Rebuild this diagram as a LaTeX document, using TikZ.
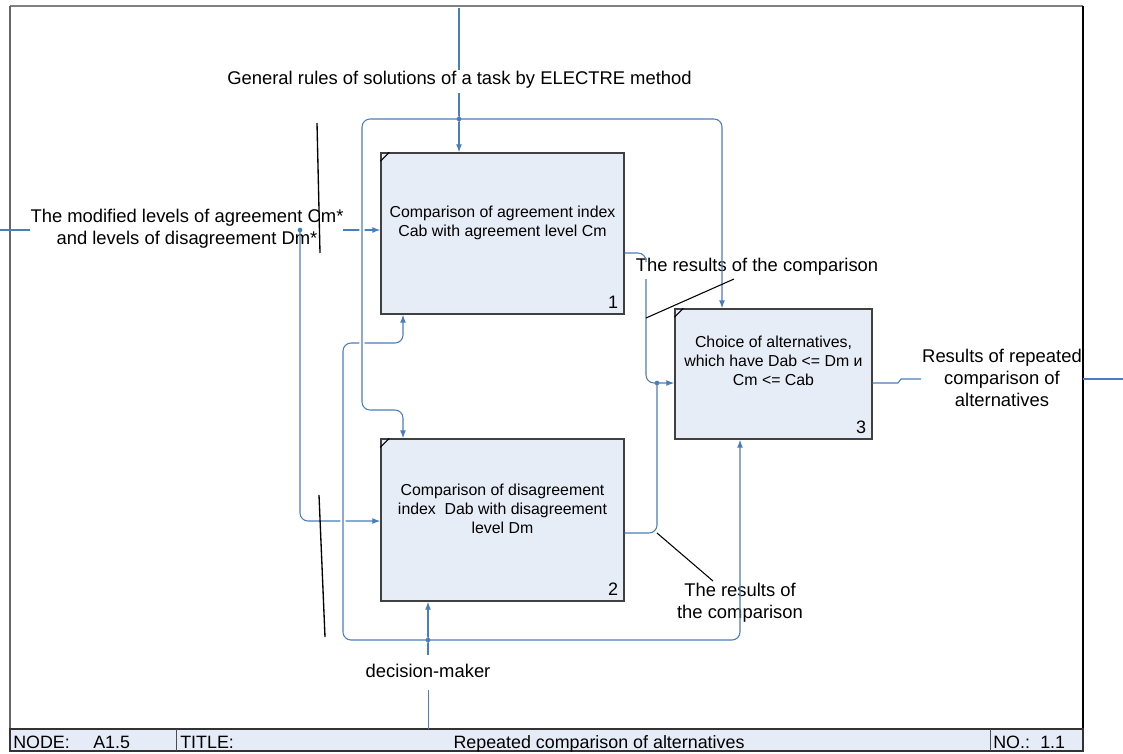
\documentclass[tikz,border=0pt]{standalone}
\usepackage{fontspec}
\setmainfont{Liberation Sans}
\usetikzlibrary{arrows.meta}
\definecolor{flow}{HTML}{4A7EBB}
\definecolor{boxfill}{HTML}{E7EDF7}
\definecolor{barfill}{HTML}{E6ECF7}
\begin{document}
\begin{tikzpicture}[x=0.75pt,y=-0.75pt,
  flowline/.style={draw=flow, line width=0.8pt},
  arr/.style={flowline, -{Latex[length=6pt,width=4.5pt]}},
  rc/.style={rounded corners=6pt},
  halo/.style={preaction={draw=white, line width=4pt, shorten >=4pt}},
  box/.style={draw=black!75, fill=boxfill, line width=1.1pt, inner sep=0pt},
  boxtext/.style={font=\fontsize{11.9}{14.3}\selectfont, align=center, inner sep=0pt},
  numtext/.style={font=\fontsize{13.5}{15}\selectfont, inner sep=0pt},
  lbl/.style={font=\fontsize{13.8}{16.2}\selectfont, align=center, inner sep=1pt},
  bartext/.style={font=\fontsize{13.4}{15}\selectfont, inner sep=0pt, anchor=base west},
  leader/.style={draw=black, line width=0.8pt},
  tick/.style={draw=black, line width=1pt},
  dotc/.style={circle, fill=flow, inner sep=0pt, minimum size=3.5pt}
]
\useasboundingbox (0,0) rectangle (1123,753);

% frame
\draw[black!50, line width=1.5pt] (10,6) -- (1083,6);
\draw[black!60, line width=0.8pt] (10,6) -- (10,729);
\draw[black, line width=1.1pt] (1083,6) -- (1083,729);

% bottom bar
\draw[fill=barfill, draw=black!80, line width=0.8pt] (10,729) rectangle (1083,751);
\draw[black!70, line width=0.6pt] (176,729) -- (176,751);
\draw[black!70, line width=0.6pt] (990,729) -- (990,751);
\node[bartext] (nodek) at (13,748) {NODE:};
\node[bartext] (nodev) at (93,748) {A1.5};
\node[bartext] (titlek) at (180,748) {TITLE:};
\node[font=\fontsize{13.4}{15}\selectfont, inner sep=0pt, anchor=base] (titlev) at (599,748) {Repeated comparison of alternatives};
\node[bartext] (nok) at (993,748) {NO.:};
\node[bartext] (nov) at (1040,748) {1.1};

% activity boxes
\node[box, minimum width=182.25pt, minimum height=120.75pt] (b1) at (502.5,233.5) {};
\node[box, minimum width=182.25pt, minimum height=121.5pt] (b2) at (502.5,520) {};
\node[box, minimum width=147.75pt, minimum height=97.5pt] (b3) at (773.5,374) {};
\foreach \b in {b1,b2,b3} \draw[black, line width=0.8pt] (\b.north west) ++(0,9) -- ++(9,-9);

\node[boxtext] (b1t) at (502.5,223) {Comparison of agreement index\\Cab with agreement level Cm};
\node[boxtext] (b2t) at (502.5,509) {Comparison of disagreement\\index\ \ Dab with disagreement\\level Dm};
\node[boxtext] (b3t) at (773.5,361) {Choice of alternatives,\\which have Dab <= Dm и\\Cm <= Cab};
\node[numtext] (n1) at (613,302) {1};
\node[numtext] (n2) at (613,589) {2};
\node[numtext] (n3) at (861,427) {3};

% labels
\node[lbl] (ctl) at (459.5,80) {General rules of solutions of a task by ELECTRE method};
\node[lbl] (inl) at (187,229) {The modified levels of agreement Cm*\\and levels of disagreement Dm*};
\node[lbl] (r1l) at (757,267) {The results of the comparison};
\node[lbl] (r2l) at (740,603) {The results of\\the comparison};
\node[lbl] (outl) at (1002,378) {Results of repeated\\comparison of\\alternatives};
\node[lbl] (mechl) at (428,671) {decision-maker};

% coordinates
\coordinate (ctop) at (459,8);
\coordinate (cgap1) at (459,70);
\coordinate (cgap2) at (459,93);
\coordinate (j1) at (459,119);
\coordinate (cr) at (722,119);
\coordinate (cl1) at (362,119);
\coordinate (cl2) at (362,410);
\coordinate (cl3) at (403,410);
\coordinate (inL) at (0,230);
\coordinate (inE) at (30,230);
\coordinate (j2) at (300,230);
\coordinate (inS) at (343,230);
\coordinate (ib) at (300,521);
\coordinate (mbot) at (428,729);
\coordinate (mg1) at (428,690);
\coordinate (mg2) at (428,655);
\coordinate (j3) at (428,640);
\coordinate (mr) at (740,640);
\coordinate (ml1) at (343,640);
\coordinate (ml2) at (343,343);
\coordinate (ml3) at (403,343);
\coordinate (o1a) at (646,253);
\coordinate (o1b) at (646,262);
\coordinate (o1c) at (646,279);
\coordinate (o1d) at (646,383);
\coordinate (j4) at (657,383);
\coordinate (o2) at (657,533);
\coordinate (o3a) at (898,383);
\coordinate (o3b) at (901,379);
\coordinate (o3c) at (921,379);
\coordinate (o3d) at (1083,379);
\coordinate (o3e) at (1123,379);

% input
\draw[flowline] (inL) -- (inE);
\draw[arr] (inS) -- (b1.west |- inS);
\draw[arr, rc] (j2) -- (ib) -- (b2.west |- ib);

% mechanism
\draw[flowline, line width=0.6pt] (mbot) -- (mg1);
\draw[flowline] (mg2) -- (j3);
\draw[arr] (j3) -- (b2.south -| j3);
\draw[arr, rc] (j3) -- (mr) -- (b3.south -| mr);
\draw[arr, rc, halo] (j3) -- (ml1) -- (ml2) -- (ml3) -- (b1.south -| ml3);

% control
\draw[flowline] (ctop) -- (cgap1);
\draw[arr] (cgap2) -- (b1.north -| j1);
\draw[arr, rc] (j1) -- (cr) -- (b3.north -| cr);
\draw[arr, rc, halo] (j1) -- (cl1) -- (cl2) -- (cl3) -- (b2.north -| cl3);

% outputs
\draw[flowline, rc] (b1.east |- o1a) -- (o1a) -- (o1b);
\draw[arr, rc] (o1c) -- (o1d) -- (b3.west |- o1d);
\draw[flowline, rc] (b2.east |- o2) -- (o2) -- (j4);
\draw[flowline] (b3.east |- o3a) -- (o3a) -- (o3b) -- (o3c);
\draw[flowline] (o3d) -- (o3e);

% junction dots
\node[dotc] (d1) at (j1) {};
\node[dotc] (d2) at (j2) {};
\node[dotc] (d3) at (j3) {};
\node[dotc] (d4) at (j4) {};

% leader and tick lines
\coordinate (l1a) at (646,318);
\coordinate (l1b) at (734,279);
\coordinate (l2a) at (657,533);
\coordinate (l2b) at (713,581);
\draw[leader] (l1a) -- (l1b);
\draw[leader] (l2a) -- (l2b);
\coordinate (t1a) at (317,123);
\coordinate (t1b) at (320,253);
\coordinate (t2a) at (319,495);
\coordinate (t2b) at (325,637);
\draw[tick] (t1a) -- (t1b);
\draw[tick] (t2a) -- (t2b);
\end{tikzpicture}
\end{document}
